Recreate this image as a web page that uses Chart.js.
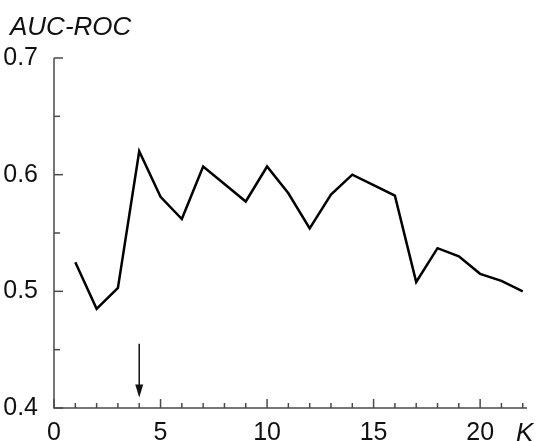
<!DOCTYPE html>
<html lang="en">
<head>
<meta charset="UTF-8">
<title>AUC-ROC vs K</title>
<script src="https://cdn.jsdelivr.net/npm/chart.js"></script>
<style>
    body {
        margin: 0;
        padding: 0;
        background-color: #fff;
    }
    .wrap {
        width: 538px;
        height: 441px;
        position: relative;
    }
</style>
</head>
<body>
<div class="wrap"><canvas id="chart"></canvas></div>
<script>
// data
const kValues = [1, 2, 3, 4, 5, 6, 7, 8, 9, 10, 11, 12, 13, 14, 15, 16, 17, 18, 19, 20, 21, 22];
const aucRoc = [0.525, 0.485, 0.503, 0.620, 0.581, 0.562, 0.607, 0.592, 0.577, 0.607, 0.584,
                0.554, 0.583, 0.600, 0.591, 0.582, 0.508, 0.537, 0.530, 0.515, 0.509, 0.500];
const xTickLabels = [0, 5, 10, 15, 20];
const yTickLabels = [0.4, 0.5, 0.6, 0.7];
const arrowK = 4;
const arrowFrom = 0.455;
const arrowTo = 0.409;

const FONT = '"Liberation Sans", Arial, sans-serif';

// axes with inward ticks, arrow and the axis captions
const axesPlugin = {
    id: 'axesPlugin',
    afterDraw(chart) {
        const { ctx, chartArea, scales } = chart;
        const xs = scales.x, ys = scales.y;
        const left = chartArea.left, bottom = chartArea.bottom;
        ctx.save();
        ctx.strokeStyle = '#4a4a4a';
        ctx.lineWidth = 1.5;
        ctx.beginPath();
        ctx.moveTo(left, ys.getPixelForValue(0.7));
        ctx.lineTo(left, bottom);
        ctx.lineTo(chartArea.right, bottom);
        ctx.stroke();

        // x ticks
        for (let k = 0; k <= 22; k++) {
            const px = xs.getPixelForValue(k);
            const len = k % 5 === 0 ? 9 : 5;
            ctx.beginPath();
            ctx.moveTo(px, bottom);
            ctx.lineTo(px, bottom - len);
            ctx.stroke();
        }
        // y ticks
        for (let i = 0; i <= 6; i++) {
            const v = 0.4 + i * 0.05;
            const py = ys.getPixelForValue(v);
            const len = i % 2 === 0 ? 9 : 6;
            ctx.beginPath();
            ctx.moveTo(left, py);
            ctx.lineTo(left + len, py);
            ctx.stroke();
        }

        // arrow
        const ax = xs.getPixelForValue(arrowK);
        const ay1 = ys.getPixelForValue(arrowFrom);
        const ay2 = ys.getPixelForValue(arrowTo);
        ctx.strokeStyle = '#111';
        ctx.fillStyle = '#111';
        ctx.lineWidth = 1.5;
        ctx.beginPath();
        ctx.moveTo(ax, ay1);
        ctx.lineTo(ax, ay2 - 10);
        ctx.stroke();
        ctx.beginPath();
        ctx.moveTo(ax - 4, ay2 - 13);
        ctx.lineTo(ax + 4, ay2 - 13);
        ctx.lineTo(ax, ay2);
        ctx.closePath();
        ctx.fill();

        // captions
        ctx.fillStyle = '#111';
        ctx.font = 'italic 26px ' + FONT;
        ctx.textBaseline = 'alphabetic';
        ctx.textAlign = 'left';
        ctx.fillText('AUC-ROC', 10, 35);
        ctx.fillText('K', 516, 441);
        ctx.restore();
    }
};

const ctx = document.getElementById('chart').getContext('2d');
const chart = new Chart(ctx, {
    type: 'line',
    data: {
        labels: kValues,
        datasets: [{
            data: kValues.map((k, i) => ({ x: k, y: aucRoc[i] })),
            borderColor: '#000',
            borderWidth: 2.5,
            pointRadius: 0,
            tension: 0,
            fill: false
        }]
    },
    options: {
        responsive: true,
        maintainAspectRatio: false,
        animation: false,
        layout: { padding: { top: 58, right: 11, left: 0, bottom: 0 } },
        plugins: {
            legend: { display: false },
            tooltip: { enabled: false }
        },
        scales: {
            x: {
                type: 'linear',
                min: 0,
                max: 22.2,
                grid: { display: false },
                border: { display: false },
                afterBuildTicks: (s) => { s.ticks = xTickLabels.map(v => ({ value: v })); },
                afterFit: (s) => { s.height = 33; },
                ticks: {
                    padding: 2,
                    color: '#111',
                    font: { family: FONT, size: 25 },
                    maxRotation: 0,
                    callback: (v) => String(v)
                }
            },
            y: {
                min: 0.4,
                max: 0.7,
                grid: { display: false },
                border: { display: false },
                afterBuildTicks: (s) => { s.ticks = yTickLabels.map(v => ({ value: v })); },
                afterFit: (s) => { s.width = 54; },
                ticks: {
                    padding: 8,
                    color: '#111',
                    font: { family: FONT, size: 25 },
                    callback: (v) => v.toFixed(1)
                }
            }
        }
    },
    plugins: [axesPlugin]
});
</script>
</body>
</html>
